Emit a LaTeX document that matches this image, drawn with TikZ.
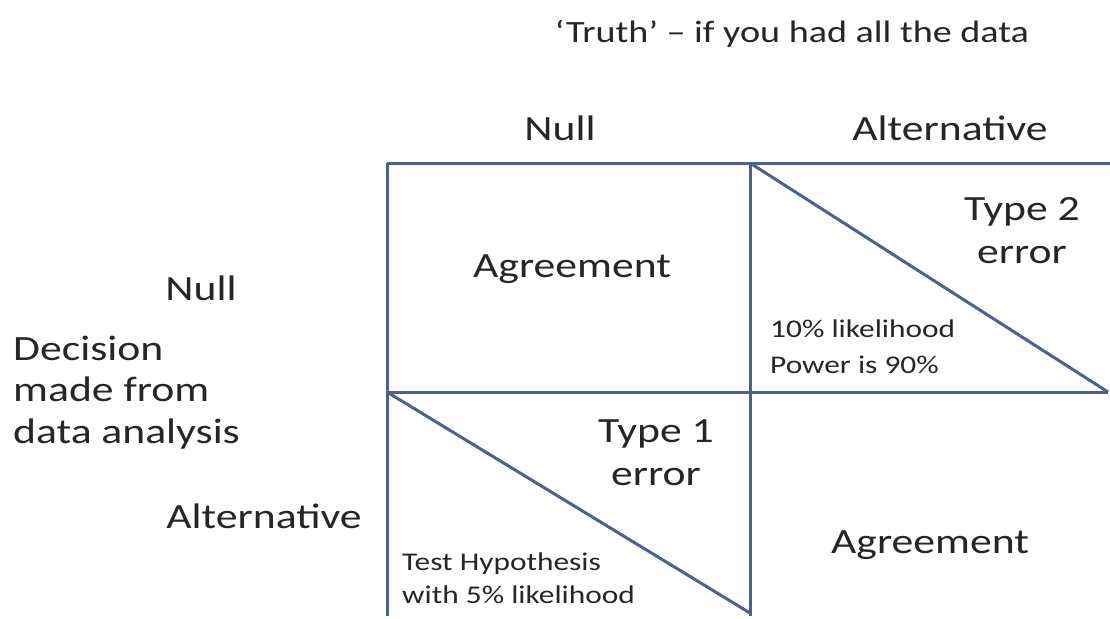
\documentclass[tikz,border=0pt]{standalone}
\usepackage{fontspec}
\setmainfont[FakeStretch=1.23]{Carlito}
\definecolor{ink}{RGB}{38,38,38}
\definecolor{gridblue}{RGB}{76,96,146}
\begin{document}
\begin{tikzpicture}[x=1pt,y=-1pt,
  grid/.style={draw=gridblue, line width=3pt},
  lbl/.style={font=\fontsize{35.5}{43}\selectfont, text=ink, inner sep=0pt, anchor=base, align=center},
  ttl/.style={font=\fontsize{31}{37}\selectfont, text=ink, inner sep=0pt, anchor=base},
  note/.style={font=\fontsize{25.5}{35}\selectfont, text=ink, inner sep=0pt, anchor=base west, align=left}]
\useasboundingbox[fill=white] (0,0) rectangle (1110,618);

% grid corners
\coordinate (tl) at (387,163);
\coordinate (tm) at (750,163);
\coordinate (tr) at (1110,163);
\coordinate (ml) at (387,392);
\coordinate (mm) at (750,392);
\coordinate (mr) at (1108,392);
\coordinate (bl) at (387,616);
\coordinate (bm) at (750,616);
\coordinate (bd) at (750,613);

% table lines
\draw[grid] (tl) -- (tr);
\draw[grid] (ml) -- (mr);
\draw[grid] (tl) -- (bl);
\draw[grid] (tm) -- (bm);
% diagonals through the error cells
\draw[grid] (tm) -- (mr);
\draw[grid] (ml) -- (bd);

% headings (multi-line nodes are placed by the baseline of their last line)
\node[ttl] (truth) at (792,42) {‘Truth’ – if you had all the data};
\node[lbl] (colnull) at (560,140) {Null};
\node[lbl] (colalt) at (950,140) {Alternative};
\node[lbl] (rownull) at (201,300) {Null};
\node[lbl, anchor=base west, align=left, font=\fontsize{35.5}{41.5}\selectfont] (decision) at (13,443) {Decision\\made from\\data analysis};
\node[lbl] (rowalt) at (264,528) {Alternative};

% cells
\node[lbl] (agree1) at (572,277) {Agreement};
\node[lbl] (type2) at (1022,263) {Type 2\\error};
\node[note, font=\fontsize{25.5}{36}\selectfont] (power) at (770,373) {10\% likelihood\\Power is 90\%};
\node[lbl] (type1) at (656,485) {Type 1\\error};
\node[lbl] (agree2) at (930,553) {Agreement};
\node[note, font=\fontsize{25.5}{33}\selectfont] (test) at (402,603) {Test Hypothesis\\with 5\% likelihood};
\end{tikzpicture}
\end{document}
